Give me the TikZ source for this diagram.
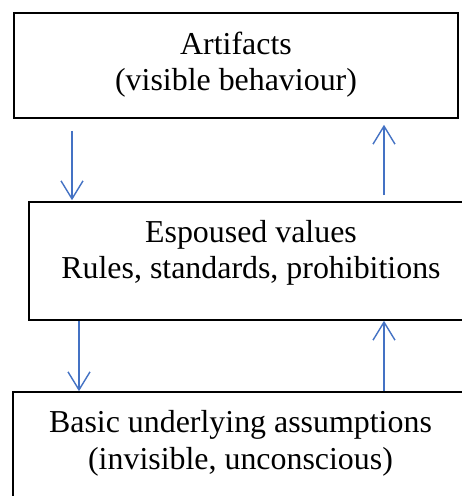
\documentclass[tikz,border=0pt]{standalone}
\usepackage{fontspec}
\setmainfont{Liberation Serif}
\usetikzlibrary{arrows.meta}
\definecolor{arrblue}{RGB}{68,114,196}
\begin{document}
\begin{tikzpicture}[x=1pt,y=-1pt,
  box/.style={draw=black,line width=1.6pt,rectangle,inner sep=0pt},
  lbl/.style={anchor=base,inner sep=0pt,font=\fontsize{31.9}{36}\selectfont},
  arr/.style={draw=arrblue,line width=1.4pt,-{Straight Barb[length=18pt,width=22pt,line width=1.4pt]}}]
\useasboundingbox (0,0) rectangle (462,496);
\fill[white] (0,0) rectangle (462,496);
% boxes
\node[box,minimum width=444pt,minimum height=105pt] (b1) at (236,65.5) {};
\node[box,minimum width=444pt,minimum height=118pt] (b2) at (251,261) {};
\node[box,minimum width=456pt,minimum height=130pt] (b3) at (241,457) {};
% texts
\node[lbl] (t1a) at (236,54) {Artifacts};
\node[lbl] (t1b) at (236,90) {(visible behaviour)};
\node[lbl] (t2a) at (251,242) {Espoused values};
\node[lbl] (t2b) at (251,278) {Rules, standards, prohibitions};
\node[lbl] (t3a) at (240.5,432.5) {Basic underlying assumptions};
\node[lbl] (t3b) at (240.5,469.5) {(invisible, unconscious)};
% arrow x positions
\coordinate (xa) at (72,0);
\coordinate (xb) at (384,0);
\coordinate (xc) at (79,0);
% connectors
\draw[arr] ([yshift=-12pt]b1.south -| xa) -- ([yshift=1pt]b2.north -| xa);
\draw[arr] ([yshift=6pt]b2.north -| xb) -- ([yshift=-6pt]b1.south -| xb);
\draw[arr] (b2.south -| xc) -- (b3.north -| xc);
\draw[arr] (b3.north -| xb) -- (b2.south -| xb);
\end{tikzpicture}
\end{document}
